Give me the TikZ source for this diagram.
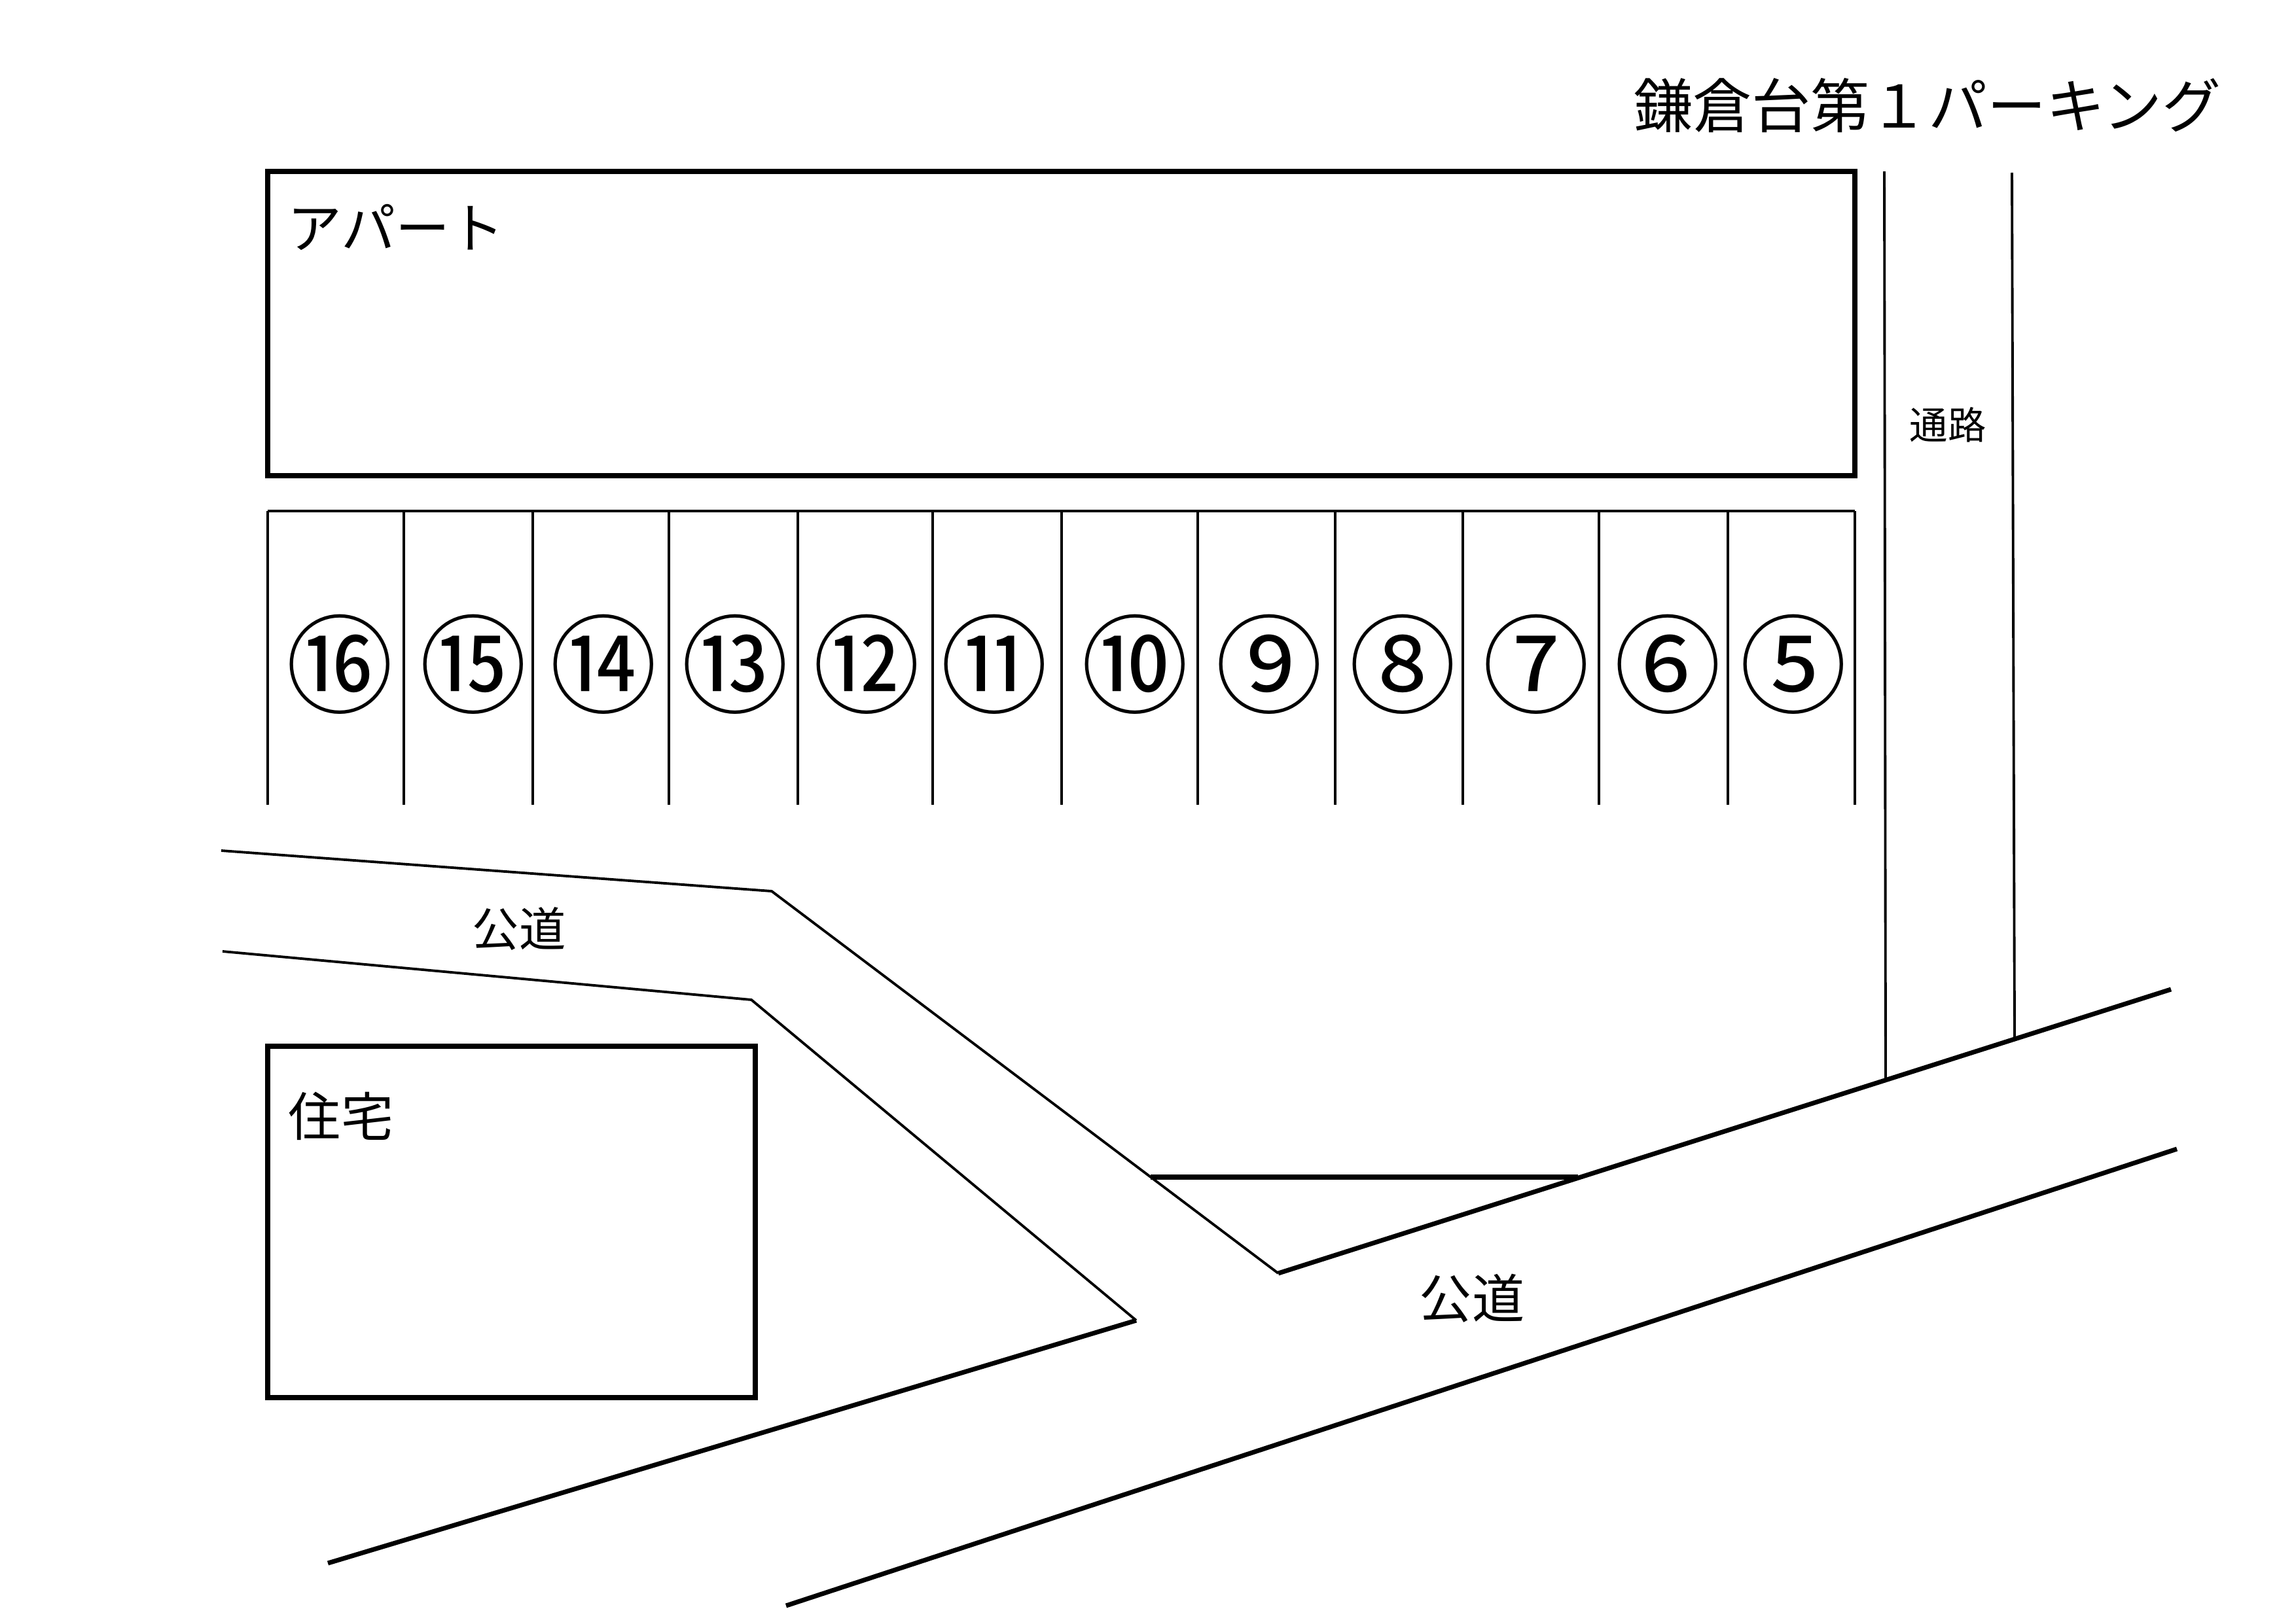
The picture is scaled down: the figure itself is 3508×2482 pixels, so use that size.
\documentclass[tikz,border=0pt]{standalone}
\usepackage{fontspec}
\setmainfont{Noto Sans CJK JP}
\begin{document}
\begin{tikzpicture}[x=0.01cm, y=-0.01cm,
thinline/.style={line width=1.1pt, line cap=butt, line join=miter},
heavyline/.style={line width=2pt, line cap=butt, line join=miter},
label/.style={inner sep=0pt, font=\fontsize{22.8pt}{26pt}\selectfont},
stallno/.style={inner sep=0pt, font=\fontsize{46.5pt}{50pt}\selectfont}]
\useasboundingbox (0,0) rectangle (3508,2482);
\node[inner sep=0pt, font=\fontsize{25.6pt}{30pt}\selectfont] (title) at (2945,161){鎌倉台第１パーキング};
\draw[heavyline, line width=2.3pt] (409,262) rectangle (2834,727);
\node[label, font=\fontsize{23.6pt}{26pt}\selectfont] (apart) at (605,347){アパート};
\draw[thinline] (409,781) -- (2834,781);
\draw[thinline] (409,781) -- (409,1230);
\draw[thinline] (617,781) -- (617,1230);
\draw[thinline] (814,781) -- (814,1230);
\draw[thinline] (1022,781) -- (1022,1230);
\draw[thinline] (1219,781) -- (1219,1230);
\draw[thinline] (1425,781) -- (1425,1230);
\draw[thinline] (1622,781) -- (1622,1230);
\draw[thinline] (1830,781) -- (1830,1230);
\draw[thinline] (2040,781) -- (2040,1230);
\draw[thinline] (2235,781) -- (2235,1230);
\draw[thinline] (2443,781) -- (2443,1230);
\draw[thinline] (2640,781) -- (2640,1230);
\draw[thinline] (2834,781) -- (2834,1230);
\node[stallno] (no16) at (519,1015){⑯};
\node[stallno] (no15) at (723,1015){⑮};
\node[stallno] (no14) at (922,1015){⑭};
\node[stallno] (no13) at (1123,1015){⑬};
\node[stallno] (no12) at (1324,1015){⑫};
\node[stallno] (no11) at (1519,1015){⑪};
\node[stallno] (no10) at (1734,1015){⑩};
\node[stallno] (no9) at (1939,1015){⑨};
\node[stallno] (no8) at (2143,1015){⑧};
\node[stallno] (no7) at (2347,1015){⑦};
\node[stallno] (no6) at (2548,1015){⑥};
\node[stallno] (no5) at (2740,1015){⑤};
\draw[thinline] (2879,262) -- (2881,1651);
\draw[thinline] (3074,264) -- (3078,1586);
\node[label, font=\fontsize{16.6pt}{20pt}\selectfont] (path) at (2976,649){通路};
\draw[thinline] (338,1300) -- (1179,1362) -- (1953,1946);
\draw[heavyline] (1953,1946) -- (3317,1512);
\draw[thinline] (340,1454) -- (1148,1528) -- (1736,2018);
\draw[heavyline] (1736,2018) -- (501,2389);
\draw[heavyline] (1201,2454) -- (3326,1756);
\draw[heavyline] (1758,1799) -- (2411,1799);
\node[label, font=\fontsize{20.3pt}{24pt}\selectfont] (road1) at (793,1420){公道};
\node[label] (road2) at (2249,1984){公道};
\draw[heavyline] (409,1599) rectangle (1154,2136);
\node[label] (house) at (521,1706){住宅};
\end{tikzpicture}
\end{document}
